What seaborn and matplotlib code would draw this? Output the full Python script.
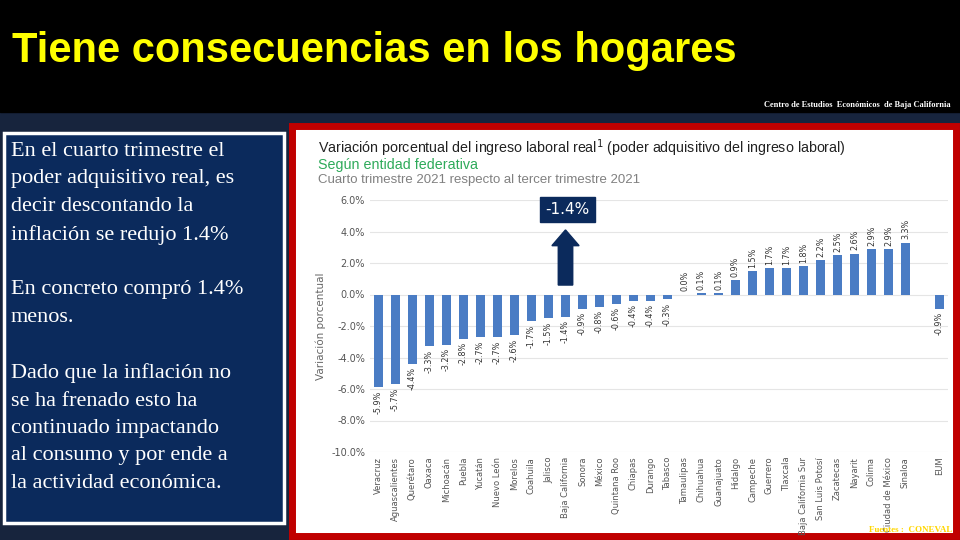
import numpy as np
import pandas as pd
import matplotlib.pyplot as plt
from matplotlib.patches import Rectangle, FancyArrow
import seaborn as sns

# ---------------- DATA ----------------
estados = ["Veracruz", "Aguascalientes", "Querétaro", "Oaxaca", "Michoacán", "Puebla",
           "Yucatán", "Nuevo León", "Morelos", "Coahuila", "Jalisco", "Baja California",
           "Sonora", "México", "Quintana Roo", "Chiapas", "Durango", "Tabasco",
           "Tamaulipas", "Chihuahua", "Guanajuato", "Hidalgo", "Campeche", "Guerrero",
           "Tlaxcala", "Baja California Sur", "San Luis Potosí", "Zacatecas", "Nayarit",
           "Colima", "Ciudad de México", "Sinaloa", " ", "EUM"]
variacion = [-5.9, -5.7, -4.4, -3.3, -3.2, -2.8, -2.7, -2.7, -2.6, -1.7, -1.5, -1.4,
             -0.9, -0.8, -0.6, -0.4, -0.4, -0.3, 0.0, 0.1, 0.1, 0.9, 1.5, 1.7,
             1.7, 1.8, 2.2, 2.5, 2.6, 2.9, 2.9, 3.3, np.nan, -0.9]
yticks = [6, 4, 2, 0, -2, -4, -6, -8, -10]

df = pd.DataFrame({"estado": estados, "variacion": variacion})

NAVY = "#0b2a5c"
fig = plt.figure(figsize=(9.6, 5.4), dpi=100)
fig.patch.set_facecolor("#17243d")

# top black band
fig.add_artist(Rectangle((0, 1 - 112 / 540), 1, 112 / 540, transform=fig.transFigure,
                         color="black", zorder=0))
fig.text(0.012, 0.905, "Tiene consecuencias en los hogares", color="#ffff00",
         fontsize=30, fontweight="bold", family="Liberation Sans", va="center")
fig.text(0.99, 0.805, "Centro de Estudios  Económicos  de Baja California", color="white",
         fontsize=6, fontweight="bold", family="Liberation Serif", ha="right", va="center")

# left text box
fig.add_artist(Rectangle((4 / 960, 1 - 523 / 540), 280 / 960, 390 / 540,
                         transform=fig.transFigure, facecolor=NAVY, edgecolor="white",
                         linewidth=2.5, zorder=1))
texto = ("En el cuarto trimestre el\npoder adquisitivo real, es\ndecir descontando la\n"
         "inflación se redujo 1.4%\n\nEn concreto compró 1.4%\nmenos.\n\n"
         "Dado que la inflación no\nse ha frenado esto ha\ncontinuado impactando\n"
         "al consumo y por ende a\nla actividad económica.")
fig.text(11 / 960, 1 - 142 / 540, texto, color="white", fontsize=16,
         family="Liberation Serif", va="top", linespacing=1.6, zorder=2)

# right panel
fig.add_artist(Rectangle((292 / 960, 1 - 536 / 540), 664 / 960, 410 / 540,
                         transform=fig.transFigure, facecolor="white", edgecolor="#c00000",
                         linewidth=5, zorder=1))
fig.text(318 / 960, 1 - 148 / 540,
         "Variación porcentual del ingreso laboral real$^1$ (poder adquisitivo del ingreso laboral)",
         fontsize=10.3, color="#222222", va="center", family="Liberation Sans")
fig.text(318 / 960, 1 - 165 / 540, "Según entidad federativa", fontsize=10.3,
         color="#2eaa5a", va="center", family="Liberation Sans")
fig.text(318 / 960, 1 - 180 / 540, "Cuarto trimestre 2021 respecto al tercer trimestre 2021",
         fontsize=9.5, color="#808080", va="center", family="Liberation Sans")

ax = fig.add_axes([370 / 960, 1 - 452 / 540, 578 / 960, 252 / 540], zorder=2)
ax.set_facecolor("none")
sns.barplot(data=df, x="estado", y="variacion", order=estados, color="#4a7cc4",
            width=0.55, saturation=1, ax=ax)
ax.set_ylim(-10, 6)
ax.set_yticks(yticks)
ax.set_yticklabels([f"{v:.1f}%" for v in yticks], fontsize=7, color="#555555")
ax.grid(axis="y", color="#e5e5e5", linewidth=0.8)
ax.set_axisbelow(True)
ax.tick_params(axis="x", labelrotation=90, labelsize=6, labelcolor="#555555", length=0)
ax.tick_params(axis="y", length=0)
ax.set_xlabel("")
ax.set_ylabel("Variación porcentual", fontsize=7.5, color="#666666")
for s in ax.spines.values():
    s.set_visible(False)
for i, v in enumerate(variacion):
    if np.isnan(v):
        continue
    if v >= 0:
        ax.text(i, v + 0.2, f"{v:.1f}%", rotation=90, ha="center", va="bottom",
                fontsize=5.8, color="#333333")
    else:
        ax.text(i, v - 0.2, f"{v:.1f}%", rotation=90, ha="center", va="top",
                fontsize=5.8, color="#333333")

# annotation box and arrow
ax.text(11.1, 5.4, "-1.4%", fontsize=11, color="white", ha="center", va="center",
        bbox=dict(boxstyle="square,pad=0.35", facecolor="#0b2a5c", edgecolor="#0b2a5c"))
ax.add_patch(FancyArrow(11.0, 0.6, 0, 3.5, width=0.85, head_width=1.6, head_length=1.0,
                        length_includes_head=True, facecolor="#0b2a5c", edgecolor="#0b2a5c",
                        zorder=3))

fig.text(952 / 960, 1 - 530 / 540, "Fuentes :  CONEVAL", fontsize=6.5, color="#ffd700",
         fontweight="bold", ha="right", va="center", family="Liberation Serif", zorder=5)

fig.savefig("out.png", dpi=100, facecolor=fig.get_facecolor())
